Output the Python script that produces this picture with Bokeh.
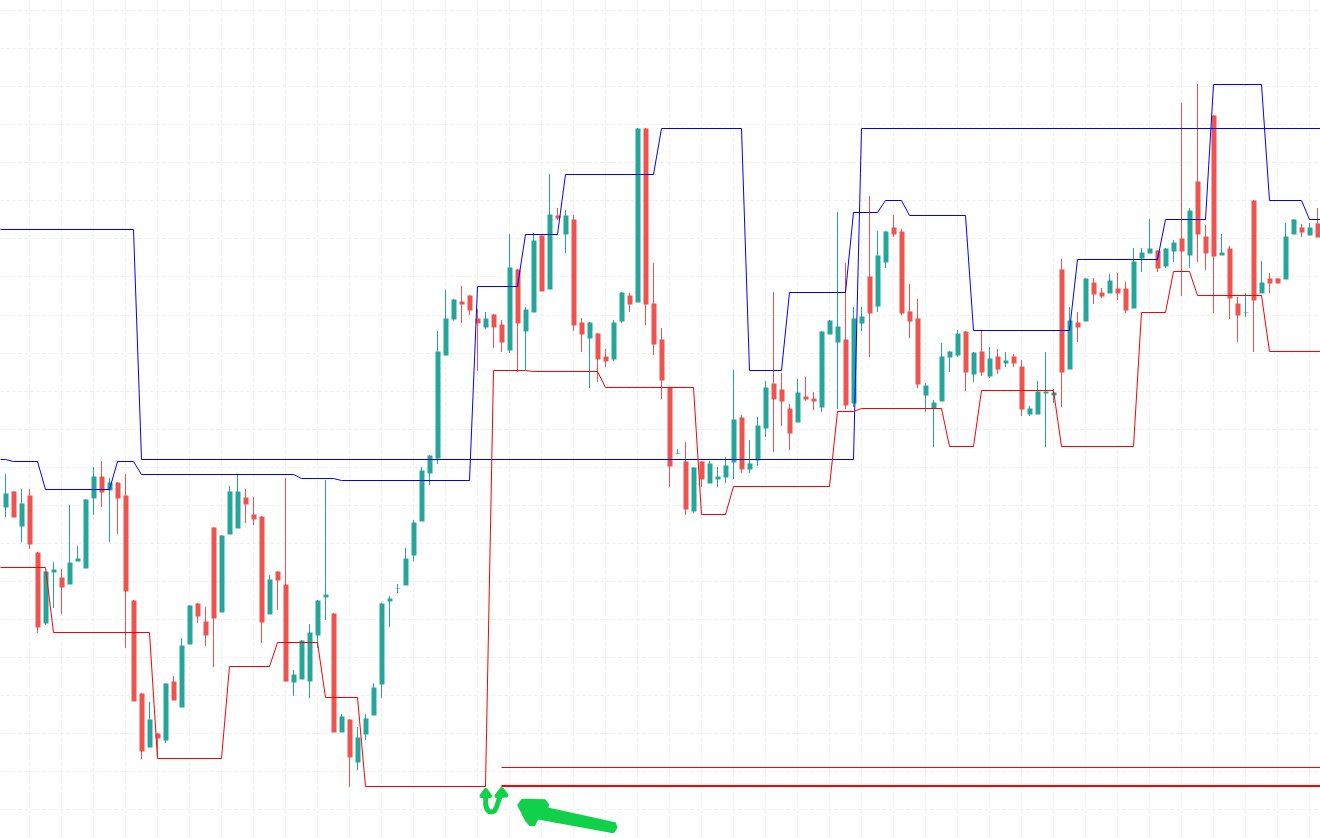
from bokeh.plotting import figure
from bokeh.models import Range1d, FixedTicker, ColumnDataSource
from bokeh.embed import file_html
from bokeh.resources import INLINE

# Price levels are read on a screen-like inverted scale (larger = lower on the chart)
bar_open = [
    507,491,526,495,552,623,572,577,584,561,
    568,498,476,490,482,495,600,693,747,733,
    740,681,707,644,603,621,527,612,534,528,
    497,514,516,614,571,584,682,679,681,635,
    597,613,732,719,762,734,715,684,601,588.5,
    585,555,521,473,458,355,319,301,295,318,
    327,314,324,350,269,331,312,235,289,215,
    234,219,322,338,333,356,359,321,295,302,
    128,303,339,387,453.5,461,511,461,483,479,
    477,462,417,469,460,428,383,389,408,422,
    396,398,407,334,342,339,403,323,276,306,
    262,227,231,311,318,395,408,401,357,355,
    331,374,351,376,356,363,356,366,414,414,
    393,395,269,369,322,321,282,292,293,288,
    288,308,258,253,250,266,251,238,255,181,
    236,115,255,248,303,312.5,200,293,278,278,
    279,234,227,235,223]
bar_close = [
    493,517,503,544,627,571,569,587,562,558,
    499,476,492,482,498,591,701,751,719,738,
    683,700,645,605,616,635,618,535,491,491,
    504,519,622,579,580,681,674,640,632,600,
    594,732,716,757,737,718,687,603,598,588,
    558,522,470,455,351,318,299,304,310,323,
    318,327,342,267,323,309,240,291,214,218,
    215,325,334,322,359,361,322,292,304,128,
    304,344,380,466,453,509,467,479,463,476,
    465,419,469,463,425,387,399,401,433,392,
    399,401,331,320,326,405,318,316,313,255,
    231,234,313,321,384,385,402,356,351,333,
    372,352,372,358,369,360,363,409,408,391,
    391,392,372,320,327,278,294,296,280,293,
    310,261,252,248,268,248,242,251,210,234,
    253,256,252,298,315,312,300,282,283,283,
    236,219,232,227,237]
bar_high = [
    474,491,489,489,552,571,562,569,505,546,
    499,467,461,478,482,474,600,693,702,733,
    683,676,638,605,603,607,527,535,486,474,
    489,497,516,575,571,478,670,640,624,600,
    480,613,714,719,727,714,683,603,596,584,
    548,520,467,455,331,290,299,286,295,309,
    312,314,320,234,269,307,233,234,174,208,
    210,215,318,322,333,349,320,292,293,128,
    128,263,328,387,449,442,467,461,461,467,
    457,370,415,440,417,381,292,373,404,379,
    377,392,331,320,212,263,307,307,196,231,
    231,215,229,284,299,383,400,343,351,330,
    331,352,331,347,349,352,354,360,406,381,
    352,389,259,307,312,278,278,288,274,273,
    282,248,248,219,250,248,240,103,208,84,
    225,115,234,246,297,293,200,261,273,278,
    223,219,224,223,208]
bar_low = [
    517,517,542,549,633,625,608,614,584,561,
    568,515,507,542,534,648,701,759,747,758,
    743,700,707,644,623,646,667,612,534,528,
    523,525,643,614,610,682,696,679,698,648,
    620,732,732,787,770,740,715,698,627,593,
    585,561,521,485,464,355,321,323,315,371,
    329,348,352,353,372,370,312,291,289,220,
    253,331,352,388,382,367,361,323,312,302,
    325,355,399,487,454,515,513,487,483,487,
    483,479,473,473,466,437,452,426,450,422,
    401,410,412,334,409,409,407,331,357,312,
    268,237,315,338,388,412,447,401,372,357,
    391,382,376,378,374,367,367,416,416,414,
    447,403,407,369,342,321,304,298,293,300,
    313,308,272,253,272,268,262,296,268,262,
    270,313,255,319,342,317,352,293,293,283,
    279,234,237,235,237]

upper_a_bar = [-1, 16, 17, 106, 107, 166]
upper_a_val = [229.5, 229.5, 459.5, 459.5, 128.5, 128.5]

upper_b_bar = [-1,0,1,4,5,13,14,16,17,36,37,41,42,58,59,64,65,69,70,81,82,92,93,97,98,
               105,106,109,110,112,113,120,121,133,134,144,145,150,151,157,158,162,163,166]
upper_b_val = [459.5,459.5,461.5,461.5,489.5,489.5,461.5,461.5,474.5,474.5,478.5,478.5,480.5,
               480.5,286.5,286.5,234.5,234.5,174.5,174.5,128.5,128.5,370.5,370.5,292.5,
               292.5,212.5,212.5,200.5,200.5,215.5,215.5,330.5,330.5,259.5,259.5,219.5,
               219.5,84.5,84.5,200.5,200.5,219.5,219.5]

lower_bar = [-1,5,6,18,19,27,28,33,34,39,40,44,45,60,61,65,66,74,75,86,87,90,91,103,104,
             106,107,117,118,121,122,131,132,141,142,145,146,148,149,157,158,166]
lower_val = [567.5,567.5,632.5,632.5,758.5,758.5,666.5,666.5,642.5,642.5,697.5,697.5,786.5,
             786.5,370.5,370.5,371.5,371.5,387.5,387.5,514.5,514.5,486.5,486.5,411.5,
             411.5,408.5,408.5,446.5,446.5,390.5,390.5,446.5,446.5,312.5,312.5,271.5,
             271.5,295.5,295.5,351.5,351.5]

level_thin = 767.5
level_thick = 786
level_start_bar = 62
level_end_bar = 166

grid_bars = [3 + 4 * k for k in range(41)]
grid_levels = [10.5,48.5,86.5,124.5,162.5,200.5,238.5,276.5,315.5,353.5,391.5,429.5,
               467.5,505.5,543.5,581.5,619.5,657.5,695.5,733.5,771.5,809.5]

RED = "#ef5350"
GREEN = "#26a69a"
MARK = "#11d14b"


def bar_at(px):
    return (px - 5.5) / 8


# hand-drawn annotation outlines, window position (x) / scale level (y)
big_head_x = [518.3, 522.3, 545, 548.3, 546.7, 537.7, 534.3, 530, 525.7]
big_head_y = [805, 799.7, 800.3, 805, 809, 818.3, 825, 825, 820]
big_shaft_x = [546.7, 615, 616.5, 613.3, 536.7]
big_shaft_y = [808.3, 823.3, 827.5, 832.3, 818.3]
u_x = [485.7, 485.7, 487, 489, 491.7, 494.5, 496.5, 498.5, 501]
u_y = [793, 805, 809.5, 811.5, 812, 811, 807, 801, 793]
u_left_x = [481.5, 485.7, 490]
u_left_y = [796, 790, 796]
u_right_x = [496.5, 501.7, 506.5]
u_right_y = [796, 789, 795.5]

# Bokeh draws its strokes half a pixel off; the ranges start half a pixel later to keep them crisp
p = figure(width=1320, height=838, output_backend="svg", toolbar_location=None,
           x_range=Range1d(bar_at(0.5), bar_at(1320.5)), y_range=Range1d(838.5, 0.5),
           min_border=0, background_fill_color="white", border_fill_color="white")
p.outline_line_color = None
p.xaxis.visible = False
p.yaxis.visible = False
p.xgrid.ticker = FixedTicker(ticks=grid_bars)
p.ygrid.ticker = FixedTicker(ticks=grid_levels)
for g in (p.xgrid, p.ygrid):
    g.grid_line_color = "#ececec"
    g.grid_line_dash = "3 3"
    g.grid_line_width = 1

bars = list(range(len(bar_open)))
src = ColumnDataSource(dict(
    x=bars, o=bar_open, c=bar_close, h=bar_high, l=bar_low,
    col=[GREEN if c < o else RED for o, c in zip(bar_open, bar_close)],
    # fills do not get the half-pixel stroke offset, so the bodies make it up themselves
    xb=[i + 0.5 / 8 for i in bars],
    ob=[v + 0.5 for v in bar_open],
    cb=[v + 0.5 for v in bar_close],
))
p.segment("x", "h", "x", "l", color="col", line_width=1, source=src)
p.vbar("xb", width=5 / 8, top="ob", bottom="cb", fill_color="col", line_color=None, source=src)

p.line(upper_a_bar, upper_a_val, line_color="#0000ff", line_width=1)
p.line(upper_b_bar, upper_b_val, line_color="#0000ff", line_width=1)
p.line(lower_bar, lower_val, line_color="#ff0000", line_width=1)
p.line([level_start_bar, level_end_bar], [level_thin, level_thin], line_color="#ff0000", line_width=1)
p.line([level_start_bar, level_end_bar], [level_thick, level_thick], line_color="#ff0000", line_width=2)

p.patch([bar_at(v) for v in big_head_x], big_head_y, fill_color=MARK, line_color=MARK,
        line_width=2, line_join="round")
p.patch([bar_at(v) for v in big_shaft_x], big_shaft_y, fill_color=MARK, line_color=MARK,
        line_width=2, line_join="round")
p.line([bar_at(v) for v in u_x], u_y, line_color=MARK, line_width=5, line_cap="round", line_join="round")
p.patch([bar_at(v) for v in u_left_x], u_left_y, fill_color=MARK, line_color=MARK,
        line_width=4, line_join="round")
p.patch([bar_at(v) for v in u_right_x], u_right_y, fill_color=MARK, line_color=MARK,
        line_width=4, line_join="round")

open("out.html", "w").write(file_html(p, INLINE))
